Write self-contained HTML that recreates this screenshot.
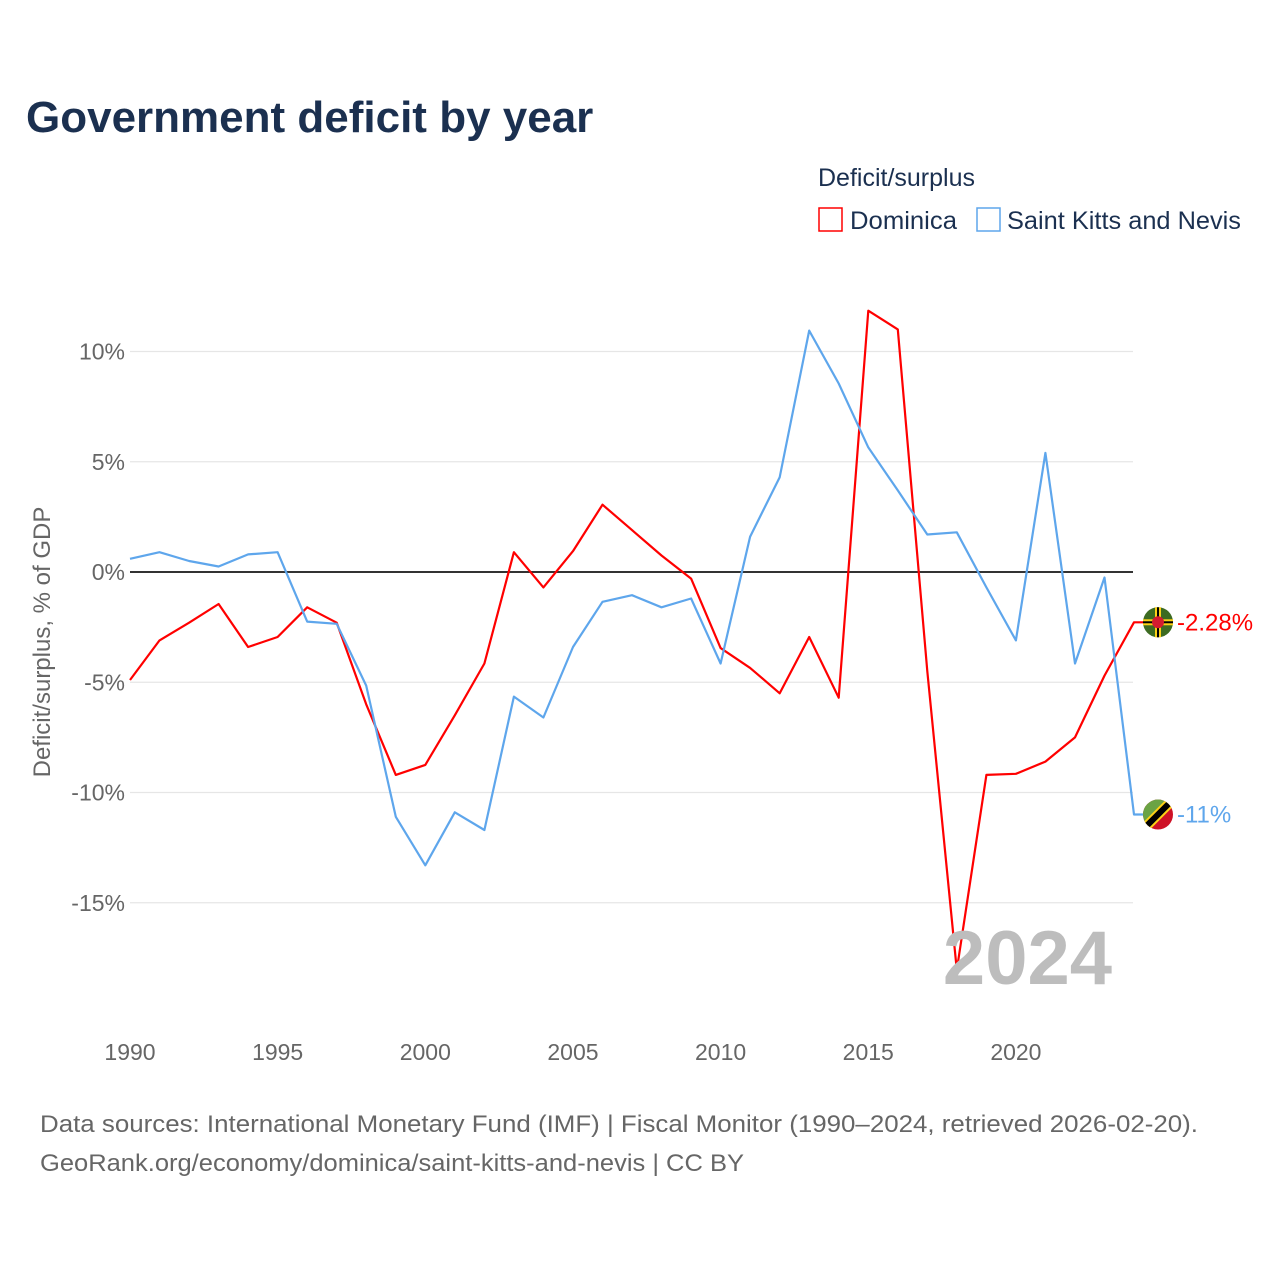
<!DOCTYPE html>
<html><head><meta charset="utf-8"><style>
body{margin:0;background:#fff;font-family:"Liberation Sans",sans-serif;}
svg text{font-family:"Liberation Sans",sans-serif;}
</style></head><body>
<svg id="chart" width="1280" height="1280" xmlns="http://www.w3.org/2000/svg">
<text x="26" y="132" font-size="44" font-weight="bold" fill="#1b3050">Government deficit by year</text>
<text x="818" y="186" font-size="25" fill="#1b3050">Deficit/surplus</text>
<rect x="819" y="208" width="23" height="23" fill="none" stroke="#f00" stroke-width="1.5"/>
<text x="850" y="229" font-size="25" fill="#1b3050" textLength="107" lengthAdjust="spacingAndGlyphs">Dominica</text>
<rect x="977" y="208" width="23" height="23" fill="none" stroke="#5ea6ec" stroke-width="1.5"/>
<text x="1007" y="229" font-size="25" fill="#1b3050" textLength="234" lengthAdjust="spacingAndGlyphs">Saint Kitts and Nevis</text>
<text transform="translate(50,642) rotate(-90)" text-anchor="middle" font-size="24" fill="#666">Deficit/surplus, % of GDP</text>
<g id="grid"></g><g id="lines"></g>
<text x="1112" y="984" text-anchor="end" font-size="76" font-weight="bold" fill="#bdbdbd">2024</text>
<text x="40" y="1132" font-size="24" fill="#666" textLength="1158" lengthAdjust="spacingAndGlyphs">Data sources: International Monetary Fund (IMF) | Fiscal Monitor (1990–2024, retrieved 2026-02-20).</text>
<text x="40" y="1171" font-size="24" fill="#666" textLength="704" lengthAdjust="spacingAndGlyphs">GeoRank.org/economy/dominica/saint-kitts-and-nevis | CC BY</text>
</svg>
<script>
const years=[1990,1991,1992,1993,1994,1995,1996,1997,1998,1999,2000,2001,2002,2003,2004,2005,2006,2007,2008,2009,2010,2011,2012,2013,2014,2015,2016,2017,2018,2019,2020,2021,2022,2023,2024];
const dominica=[-4.9,-3.1,-2.3,-1.45,-3.4,-2.95,-1.6,-2.3,-6.0,-9.2,-8.75,-6.5,-4.15,0.9,-0.7,0.95,3.05,1.9,0.75,-0.3,-3.45,-4.35,-5.5,-2.95,-5.7,11.85,11.0,-4.5,-18.05,-9.2,-9.15,-8.6,-7.5,-4.7,-2.28];
const saintKitts=[0.6,0.9,0.5,0.25,0.8,0.9,-2.25,-2.35,-5.15,-11.1,-13.3,-10.9,-11.7,-5.65,-6.6,-3.4,-1.35,-1.05,-1.6,-1.2,-4.15,1.6,4.3,10.95,8.55,5.65,3.7,1.7,1.8,-0.7,-3.1,5.4,-4.15,-0.25,-11.0];
const yTicks=[10,5,0,-5,-10,-15];
const xTicks=[1990,1995,2000,2005,2010,2015,2020];
const endLabels=["-2.28%","-11%"];
const NS="http://www.w3.org/2000/svg";
const x=v=>130+(v-1990)*29.53;
const y=v=>572-v*22.05;
const grid=document.getElementById('grid'),lines=document.getElementById('lines');
function mk(tag,attrs,parent){const e=document.createElementNS(NS,tag);for(const k in attrs)e.setAttribute(k,attrs[k]);parent.appendChild(e);return e;}
yTicks.forEach(t=>{
 const l=mk('line',{x1:130,x2:1133,y1:y(t),y2:y(t),stroke:t===0?'#333':'#e6e6e6','stroke-width':t===0?2:1.3},grid);
 
 
 const tx=mk('text',{x:125,y:y(t)+8,'text-anchor':'end','font-size':23,fill:'#666'},grid);
 tx.textContent=t+'%';
 
 
});
xTicks.forEach(t=>{
 const tx=mk('text',{x:x(t),y:1060,'text-anchor':'middle','font-size':23,fill:'#666'},grid);
 tx.textContent=t;
 
 
});
function series(vals,color,name,label,flag){
 let d=vals.map((v,i)=>(i?'L':'M')+x(years[i]).toFixed(1)+','+y(v).toFixed(1)).join(' ');
 const last=y(vals[vals.length-1]);
 d+=' L1145,'+last.toFixed(1);
 const p=mk('path',{d:d,fill:'none',stroke:color,'stroke-width':2.2,'stroke-linejoin':'round'},lines);
 
 
 const g=mk('g',{},lines);
 
 
 flag(g,1158,last);
 const t=mk('text',{x:1177,y:last+8,'font-size':24,fill:color},lines);
 t.textContent=label;
 
 
}
series(dominica,'#ff0000','dominica',endLabels[0],(g,cx,cy)=>{
 mk('circle',{cx,cy,r:15,fill:'#3d6b22'},g);
 mk('rect',{x:cx-15,y:cy-3,width:30,height:6,fill:'#fcd116'},g);
 mk('rect',{x:cx-3,y:cy-15,width:6,height:30,fill:'#fcd116'},g);
 mk('rect',{x:cx-15,y:cy-1,width:30,height:2,fill:'#000'},g);
 mk('rect',{x:cx-1,y:cy-15,width:2,height:30,fill:'#000'},g);
 mk('circle',{cx,cy,r:6,fill:'#d41c30'},g);
});
series(saintKitts,'#5ea6ec','saint-kitts',endLabels[1],(g,cx,cy)=>{
 const cp=mk('clipPath',{id:'kc'},g);
 mk('circle',{cx,cy,r:15},cp);
 const gg=mk('g',{'clip-path':'url(#kc)'},g);
 mk('rect',{x:cx-15,y:cy-15,width:30,height:30,fill:'#ce1126'},gg);
 mk('polygon',{points:`${cx-15},${cy-15} ${cx+15},${cy-15} ${cx-15},${cy+15}`,fill:'#6aa344'},gg);
 mk('line',{x1:cx+15,y1:cy-15,x2:cx-15,y2:cy+15,stroke:'#fcd116','stroke-width':10},gg);
 mk('line',{x1:cx+15,y1:cy-15,x2:cx-15,y2:cy+15,stroke:'#000','stroke-width':6},gg);
});
</script>
</body></html>
